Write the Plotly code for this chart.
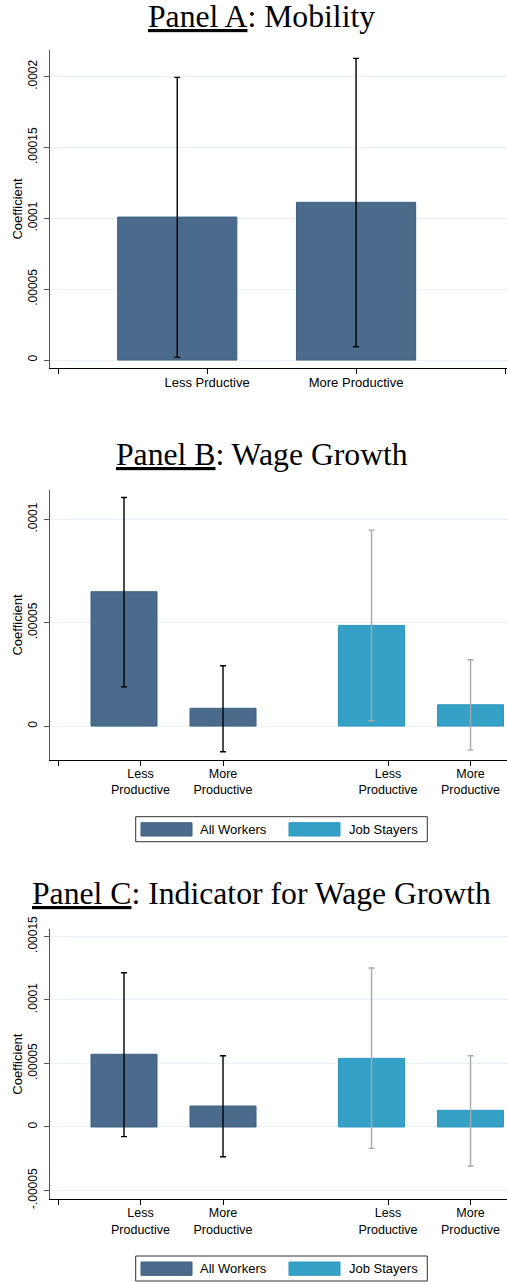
import plotly.graph_objects as go

# values
panel_titles = ["<u>Panel A</u>: Mobility",
                "<u>Panel B</u>: Wage Growth",
                "<u>Panel C</u>: Indicator for Wage Growth"]
groups = ["All Workers", "Job Stayers"]

a_labels = ["Less Prductive", "More Productive"]
a_coef = [0.0001009, 0.0001113]
a_lo = [0.0000019, 0.0000094]
a_hi = [0.0001995, 0.0002129]

bc_labels = ["Less<br>Productive", "More<br>Productive"]

b_all_coef = [0.0000650, 0.0000086]
b_all_lo = [0.0000190, -0.0000124]
b_all_hi = [0.0001106, 0.0000292]
b_stay_coef = [0.0000487, 0.0000103]
b_stay_lo = [0.0000026, -0.0000116]
b_stay_hi = [0.0000948, 0.0000321]

c_all_coef = [0.0000572, 0.0000165]
c_all_lo = [-0.0000076, -0.0000234]
c_all_hi = [0.0001214, 0.0000561]
c_stay_coef = [0.0000540, 0.0000131]
c_stay_lo = [-0.0000168, -0.0000307]
c_stay_hi = [0.0001251, 0.0000561]

a_yticks = [0, 0.00005, 0.0001, 0.00015, 0.0002]
a_yticktext = ["0", ".00005", ".0001", ".00015", ".0002"]
b_yticks = [0, 0.00005, 0.0001]
b_yticktext = ["0", ".00005", ".0001"]
c_yticks = [-0.00005, 0, 0.00005, 0.0001, 0.00015]
c_yticktext = ["-.00005", "0", ".00005", ".0001", ".00015"]

# styling / layout
W, H = 507, 1282
NAVY, NAVY_LINE = "#4a6b8c", "#3d5f80"
BLUE, BLUE_LINE = "#35a1c7", "#2c96bf"
ERR_GRAY = "#a9a9a9"
GRID = "#eaf2f3"
SANS = "Liberation Sans, Arial, sans-serif"
SERIF = "Liberation Serif, Times New Roman, serif"
SHIFT = [-0.2, 0.0]   # Less bar sits a bit left of its tick


def py(p):
    return 1 - p / H


def add_bars(fig, n, ticks, coef, lo, hi, fill, line, errc, name):
    xs = [t + s for t, s in zip(ticks, SHIFT)]
    fig.add_trace(go.Bar(
        x=xs, y=coef, width=0.8, name=name,
        marker=dict(color=fill, line=dict(color=line, width=1)),
        error_y=dict(type="data", symmetric=False,
                     array=[h - c for h, c in zip(hi, coef)],
                     arrayminus=[c - l for c, l in zip(coef, lo)],
                     color=errc, thickness=1.4, width=3),
        xaxis="x" + ("" if n == 1 else str(n)),
        yaxis="y" + ("" if n == 1 else str(n)),
        showlegend=False,
    ))


def add_legend(fig, top):
    x0, x1 = 135.7, 427.3
    fig.add_shape(type="rect", xref="paper", yref="paper",
                  x0=x0 / W, x1=x1 / W, y0=py(top + 25), y1=py(top),
                  line=dict(color="#333333", width=1), fillcolor="white")
    for (sx, tx), fill, line, name in zip([(141, 199), (289, 348)],
                                         [NAVY, BLUE], [NAVY_LINE, BLUE_LINE], groups):
        fig.add_shape(type="rect", xref="paper", yref="paper",
                      x0=sx / W, x1=(sx + 51) / W, y0=py(top + 19.3), y1=py(top + 6),
                      line=dict(color=line, width=1), fillcolor=fill)
        fig.add_annotation(text=name, x=(tx - 1.5) / W, y=py(top + 12.7), xref="paper", yref="paper",
                           xanchor="left", yanchor="middle", showarrow=False,
                           font=dict(family=SANS, size=13, color="black"))


fig = go.Figure()

add_bars(fig, 1, [1, 2], a_coef, a_lo, a_hi, NAVY, NAVY_LINE, "black", groups[0])
add_bars(fig, 2, [1, 2], b_all_coef, b_all_lo, b_all_hi, NAVY, NAVY_LINE, "black", groups[0])
add_bars(fig, 2, [4, 5], b_stay_coef, b_stay_lo, b_stay_hi, BLUE, BLUE_LINE, ERR_GRAY, groups[1])
add_bars(fig, 3, [1, 2], c_all_coef, c_all_lo, c_all_hi, NAVY, NAVY_LINE, "black", groups[0])
add_bars(fig, 3, [4, 5], c_stay_coef, c_stay_lo, c_stay_hi, BLUE, BLUE_LINE, ERR_GRAY, groups[1])

xdom = [50 / W, 1]
panels = [
    # (y domain px top/bottom, x range, y range, xticks, xticktext, yticks, yticktext, xfont)
    ((50, 368), [-0.054, 3.013], [-0.0000056, 0.0002188],
     [0, 1, 2, 3], [""] + a_labels + [""], a_yticks, a_yticktext, 13),
    ((490, 760), [-0.097, 5.442], [-0.0000164, 0.0001142],
     [0, 1, 2, 4, 5], [""] + bc_labels * 2, b_yticks, b_yticktext, 12.5),
    ((929, 1199.3), [-0.097, 5.442], [-0.0000569, 0.0001558],
     [0, 1, 2, 4, 5], [""] + bc_labels * 2, c_yticks, c_yticktext, 12.5),
]

layout = {}
for i, (ydom, xr, yr, xt, xtt, yt, ytt, xfs) in enumerate(panels, start=1):
    sfx = "" if i == 1 else str(i)
    layout["xaxis" + sfx] = dict(
        domain=xdom, range=xr, anchor="y" + sfx, tickmode="array",
        tickvals=xt, ticktext=xtt, showgrid=False, zeroline=False,
        showline=True, linecolor="black", linewidth=1.2,
        ticks="outside", ticklen=5, tickcolor="black", automargin=False,
        ticklabelstandoff=-3,
        tickfont=dict(family=SANS, size=xfs, color="black"),
    )
    layout["yaxis" + sfx] = dict(
        domain=[py(ydom[1]), py(ydom[0])], range=yr, anchor="x" + sfx,
        tickmode="array", tickvals=yt, ticktext=ytt, tickangle=-90,
        showgrid=True, gridcolor=GRID, gridwidth=1, zeroline=False,
        showline=True, linecolor="#555555", linewidth=1.2,
        ticks="outside", ticklen=5, tickcolor="#555555", automargin=False,
        ticklabelstandoff=2,
        tickfont=dict(family=SANS, size=12, color="black"),
        title=dict(text="Coefficient", font=dict(family=SANS, size=13, color="black"),
                   standoff=0),
    )

fig.update_layout(
    width=W, height=H,
    margin=dict(l=0, r=0, t=0, b=0, autoexpand=False),
    paper_bgcolor="white", plot_bgcolor="white",
    barmode="overlay", showlegend=False,
    **layout,
)

for title, yc in zip(panel_titles, [16.5, 454.5, 893.5]):
    fig.add_annotation(text=title, x=261.5 / W, y=py(yc), xref="paper", yref="paper",
                       xanchor="center", yanchor="middle", showarrow=False,
                       font=dict(family=SERIF, size=31.7, color="black"))

add_legend(fig, 816.7)
add_legend(fig, 1256)

# page has a default 8px body margin; drop it so the figure fills the window
fig.write_html("out.html", config={"displayModeBar": False},
               post_script="document.body.style.margin='0';")
